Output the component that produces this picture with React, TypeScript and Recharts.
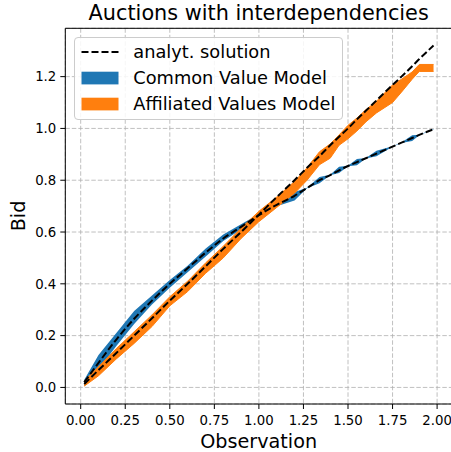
import {
  ComposedChart,
  Area,
  Line,
  XAxis,
  YAxis,
  CartesianGrid,
  Legend,
  ReferenceLine,
} from 'recharts';

const OBS = [0.02, 0.1, 0.2, 0.3, 0.4, 0.5, 0.6, 0.7, 0.8, 0.9, 1.0, 1.1, 1.2, 1.27, 1.34, 1.4, 1.45, 1.5, 1.55, 1.6, 1.66, 1.75, 1.8, 1.86, 1.9, 1.98];

// common value model band
const CV_LOW = [0.005, 0.07, 0.16, 0.245, 0.32, 0.385, 0.445, 0.505, 0.565, 0.61, 0.66, 0.7, 0.722, 0.769, 0.788, 0.819, 0.828, 0.854, 0.858, 0.884, 0.893, 0.929, 0.944, 0.951, 0.974, 0.996];
const CV_HIGH = [0.03, 0.125, 0.21, 0.295, 0.355, 0.415, 0.47, 0.535, 0.59, 0.63, 0.67, 0.71, 0.755, 0.771, 0.812, 0.821, 0.852, 0.856, 0.882, 0.886, 0.914, 0.931, 0.946, 0.974, 0.976, 0.998];

// affiliated values model band
const AV_LOW = [0.005, 0.045, 0.11, 0.17, 0.235, 0.315, 0.37, 0.44, 0.5, 0.575, 0.64, 0.695, 0.75, 0.8, 0.86, 0.885, 0.935, 0.96, 0.99, 1.025, 1.06, 1.1, 1.14, 1.19, 1.22, 1.22];
const AV_HIGH = [0.025, 0.08, 0.15, 0.215, 0.28, 0.35, 0.41, 0.48, 0.545, 0.615, 0.68, 0.735, 0.795, 0.848, 0.91, 0.94, 0.975, 1.012, 1.04, 1.072, 1.105, 1.168, 1.19, 1.218, 1.247, 1.247];

// analytical solutions (dashed)
const CV_ANALYTIC = [0.02, 0.095, 0.185, 0.265, 0.335, 0.4, 0.46, 0.52, 0.575, 0.62, 0.665, 0.705, 0.74, 0.77, 0.8, 0.82, 0.838, 0.855, 0.87, 0.885, 0.903, 0.93, 0.945, 0.963, 0.975, 0.997];
const AV_ANALYTIC = [0.013, 0.067, 0.133, 0.2, 0.267, 0.335, 0.4, 0.467, 0.535, 0.6, 0.667, 0.735, 0.8, 0.848, 0.893, 0.935, 0.968, 1.0, 1.035, 1.068, 1.108, 1.168, 1.2, 1.24, 1.268, 1.32];

const X_TICKS = [0, 0.25, 0.5, 0.75, 1.0, 1.25, 1.5, 1.75, 2.0];
const Y_TICKS = [0, 0.2, 0.4, 0.6, 0.8, 1.0, 1.2];

const X_DOMAIN = [-0.0864, 2.0836];
const Y_DOMAIN = [-0.064, 1.3866];

const BLUE = '#1f77b4';
const ORANGE = '#ff7f0e';
const FONT = '"DejaVu Sans", sans-serif';

const rows = OBS.map((x, i) => ({
  x,
  cvBand: [CV_LOW[i], CV_HIGH[i]],
  avBand: [AV_LOW[i], AV_HIGH[i]],
  cv: CV_ANALYTIC[i],
  av: AV_ANALYTIC[i],
}));

const LEGEND_ITEMS = [
  { label: 'analyt. solution', kind: 'dash', color: '#000' },
  { label: 'Common Value Model', kind: 'patch', color: BLUE },
  { label: 'Affiliated Values Model', kind: 'patch', color: ORANGE },
];

function LegendBox() {
  return (
    <div
      style={{
        width: 267,
        height: 81,
        border: '1px solid #cccccc',
        borderRadius: 4,
        background: 'rgba(255,255,255,0.85)',
        fontFamily: FONT,
        fontSize: 17.8,
        color: '#000',
        position: 'relative',
      }}
    >
      {LEGEND_ITEMS.map((item, i) => (
        <div
          key={item.label}
          style={{ position: 'absolute', left: 0, top: 1 + i * 26, height: 26, display: 'flex', alignItems: 'center' }}
        >
          <svg width={58} height={26} style={{ display: 'block' }}>
            {item.kind === 'dash' ? (
              <line x1={6.5} x2={43.5} y1={13} y2={13} stroke="#000" strokeWidth={2} strokeDasharray="7 3" />
            ) : (
              <rect x={6.5} y={6.7} width={37} height={12.7} fill={item.color} />
            )}
          </svg>
          <span style={{ whiteSpace: 'nowrap', lineHeight: '26px' }}>{item.label}</span>
        </div>
      ))}
    </div>
  );
}

export default function App() {
  return (
    <div style={{ position: 'absolute', left: 0, top: 0, width: 451, height: 452, overflow: 'hidden', background: '#fff' }}>
      <ComposedChart
        width={453}
        height={452}
        data={rows}
        margin={{ top: 28.3, right: 1, bottom: 0, left: 0 }}
      >
        <CartesianGrid stroke="#b0b0b0" strokeWidth={0.8} strokeDasharray="4.5 2" />
        <XAxis
          dataKey="x"
          type="number"
          domain={X_DOMAIN}
          ticks={X_TICKS}
          allowDataOverflow
          height={48}
          tickFormatter={(v: number) => v.toFixed(2)}
          tick={{ fontSize: 13.3, fill: '#000', fontFamily: FONT }}
          tickSize={5}
          tickMargin={7}
          axisLine={{ stroke: '#000' }}
          tickLine={{ stroke: '#000' }}
        />
        <YAxis
          type="number"
          domain={Y_DOMAIN}
          ticks={Y_TICKS}
          allowDataOverflow
          width={65.3}
          tickFormatter={(v: number) => v.toFixed(1)}
          tick={{ fontSize: 13.3, fill: '#000', fontFamily: FONT }}
          tickSize={5}
          tickMargin={4}
          axisLine={{ stroke: '#000' }}
          tickLine={{ stroke: '#000' }}
        />
        <ReferenceLine y={Y_DOMAIN[1]} stroke="#000" strokeWidth={1} />
        <Area
          dataKey="cvBand"
          type="linear"
          fill={BLUE}
          fillOpacity={1}
          stroke="none"
          dot={false}
          activeDot={false}
          isAnimationActive={false}
        />
        <Area
          dataKey="avBand"
          type="linear"
          fill={ORANGE}
          fillOpacity={1}
          stroke={ORANGE}
          strokeWidth={1}
          dot={false}
          activeDot={false}
          isAnimationActive={false}
        />
        <Line
          dataKey="cv"
          type="monotone"
          stroke="#000"
          strokeWidth={2}
          strokeDasharray="7 3"
          dot={false}
          activeDot={false}
          isAnimationActive={false}
        />
        <Line
          dataKey="av"
          type="monotone"
          stroke="#000"
          strokeWidth={2}
          strokeDasharray="7 3"
          dot={false}
          activeDot={false}
          isAnimationActive={false}
        />
        <Legend
          layout="vertical"
          align="center"
          verticalAlign="middle"
          content={() => <LegendBox />}
          wrapperStyle={{ top: 37.3, left: 74.3, width: 269, height: 83 }}
        />
      </ComposedChart>
      <svg
        width={451}
        height={452}
        style={{ position: 'absolute', left: 0, top: 0, pointerEvents: 'none' }}
        fontFamily={FONT}
      >
        <text x={258.7} y={19.5} textAnchor="middle" fontSize={20.8} fill="#000">
          Auctions with interdependencies
        </text>
        <text x={258.7} y={447.5} textAnchor="middle" fontSize={19.2} fill="#000">
          Observation
        </text>
        <text x={24.5} y={216} textAnchor="middle" fontSize={19.2} fill="#000" transform="rotate(-90, 24.5, 216)">
          Bid
        </text>
      </svg>
    </div>
  );
}
